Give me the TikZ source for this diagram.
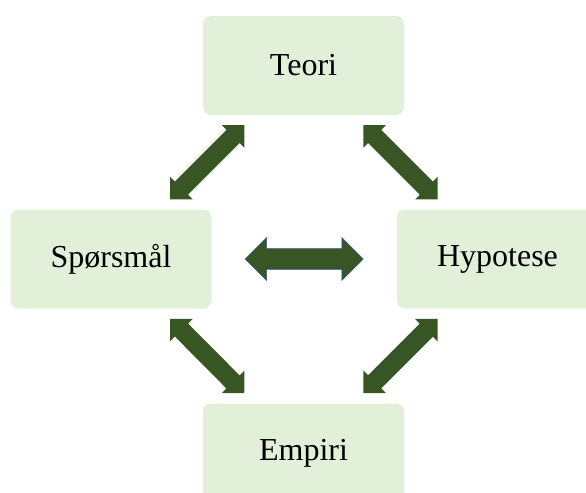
\documentclass[tikz,border=0pt]{standalone}
\usepackage{fontspec}
\setmainfont{Liberation Serif}
\usepackage{tikz}
\usetikzlibrary{shapes.arrows}

\definecolor{boxgreen}{RGB}{226,240,217}
\definecolor{arrowgreen}{RGB}{55,86,35}
\definecolor{edgeblue}{RGB}{47,82,143}

\begin{document}
\begin{tikzpicture}[x=0.75pt, y=-0.75pt,
  every node/.style={font=\fontsize{24}{28}\selectfont},
  stagebox/.style={fill=boxgreen, rounded corners=6pt, minimum width=150.75pt, minimum height=74.25pt, inner sep=0pt},
  diagarrow/.style={double arrow, fill=arrowgreen, inner sep=6.75pt, minimum height=78.75pt, double arrow head extend=5pt, sloped},
  flatarrow/.style={double arrow, fill=arrowgreen, draw=edgeblue, line width=0.5pt, inner sep=7.5pt, minimum height=88.5pt, double arrow head extend=8.25pt, sloped}]
\useasboundingbox (0,0) rectangle (586,493);
\clip (0,0) rectangle (586,493);
%% --- the four boxes ---
\node[stagebox] (teori) at (303.5,65.5) {Teori};
\node[stagebox] (sporsmal) at (111,259) {Spørsmål};
\node[stagebox] (hypotese) at (497.5,259) {Hypotese};
\node[stagebox] (empiri) at (303.5,453) {Empiri};
%% --- block arrows between them ---
\path (teori) -- node[diagarrow] {} (sporsmal);
\path (teori) -- node[diagarrow] {} (hypotese);
\path (sporsmal) -- node[diagarrow] {} (empiri);
\path (hypotese) -- node[diagarrow] {} (empiri);
\path (sporsmal) -- node[flatarrow] {} (hypotese);
\end{tikzpicture}
\end{document}
